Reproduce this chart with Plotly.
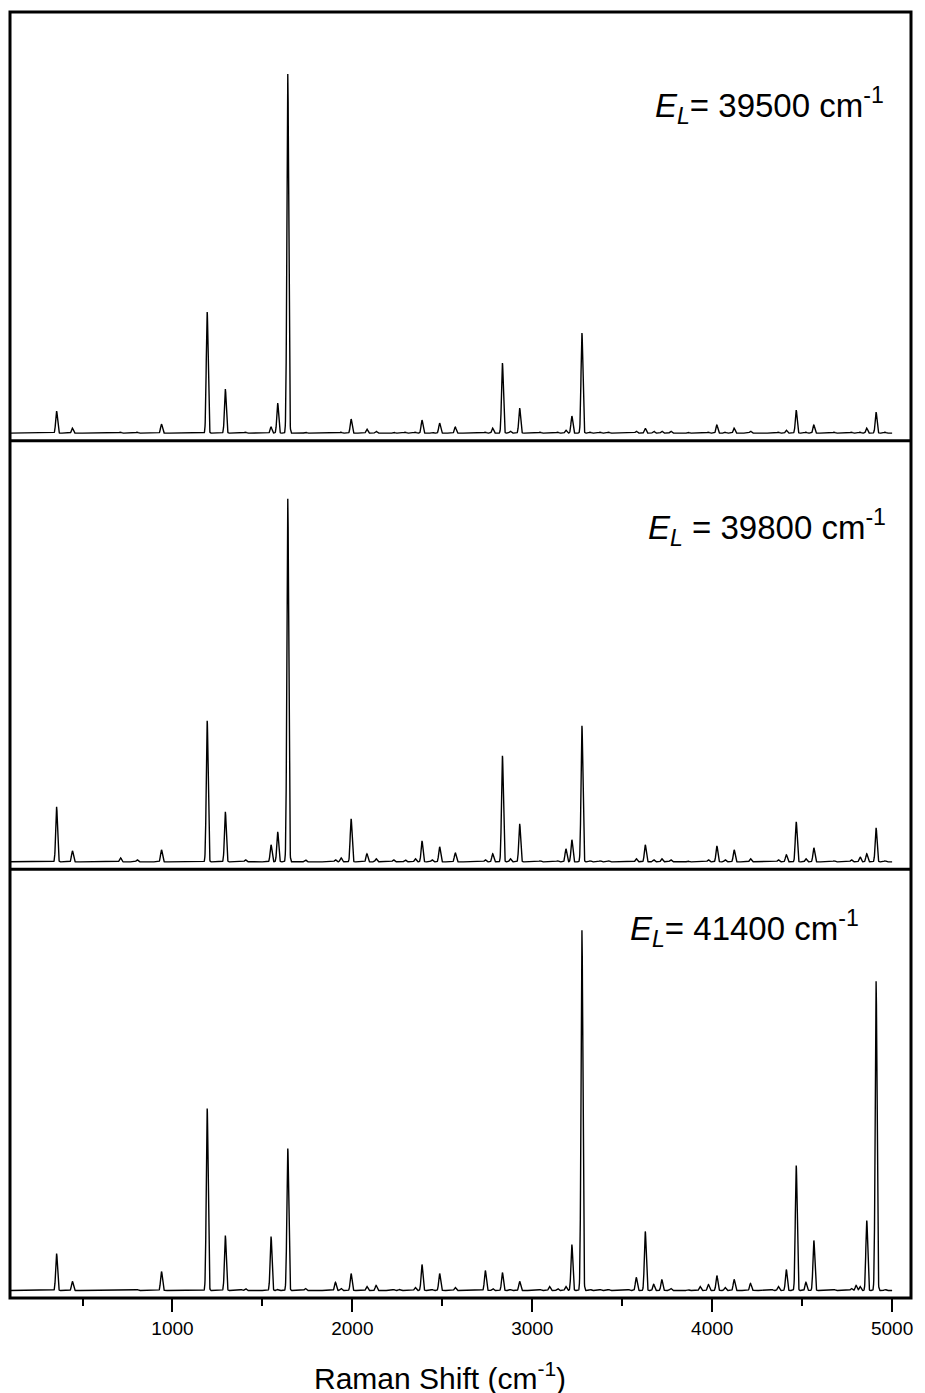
import numpy as np
import plotly.graph_objects as go
from plotly.subplots import make_subplots

# Peak positions (cm^-1)
peak_pos = [356, 444, 711, 804, 939, 1193, 1294, 1382, 1406, 1548, 1585, 1641, 1739,
            1906, 1937, 1993, 2081, 2132, 2229, 2263, 2294, 2350, 2387, 2443, 2485,
            2572, 2739, 2780, 2834, 2878, 2930, 3044, 3096, 3141, 3187, 3220, 3276,
            3322, 3378, 3424, 3535, 3578, 3628, 3675, 3720, 3770, 3865, 3933, 3979,
            4026, 4072, 4122, 4213, 4331, 4368, 4412, 4467, 4521, 4565, 4678, 4774,
            4800, 4822, 4859, 4911, 4961]

# Peak intensities (arb. units) for each excitation energy
int_39500 = [22, 5, 1, 1, 9, 121, 44, 0, 1, 6, 30, 359, 1,
             0, 1, 14, 4, 2, 1, 0, 1, 1, 13, 1, 10,
             6, 1, 5, 70, 2, 25, 1, 0, 1, 3, 17, 100,
             1, 1, 1, 0, 2, 5, 2, 2, 2, 1, 0, 1,
             8, 1, 5, 2, 0, 1, 3, 23, 1, 8, 1, 1,
             0, 1, 5, 21, 1]
int_39800 = [55, 11, 4, 2, 12, 141, 50, 0, 2, 17, 30, 363, 2,
             2, 4, 43, 8, 3, 2, 0, 2, 3, 21, 2, 15,
             9, 2, 8, 106, 3, 38, 1, 0, 1, 13, 22, 136,
             1, 1, 1, 0, 3, 17, 2, 3, 2, 1, 0, 2,
             16, 2, 12, 3, 0, 2, 7, 40, 3, 14, 1, 2,
             0, 5, 8, 34, 1]
int_41400 = [37, 9, 0, 1, 19, 182, 55, 1, 2, 54, 1, 142, 2,
             8, 2, 17, 4, 5, 1, 1, 0, 3, 26, 1, 17,
             3, 20, 2, 18, 1, 9, 1, 4, 2, 4, 46, 360,
             1, 1, 1, 1, 13, 59, 6, 11, 2, 1, 4, 6,
             15, 3, 11, 7, 1, 4, 21, 125, 8, 50, 1, 2,
             5, 4, 70, 309, 1]

labels = ["<i>E</i><sub><i>L</i></sub>= 39500 cm<sup>-1</sup>",
          "<i>E</i><sub><i>L</i></sub> = 39800 cm<sup>-1</sup>",
          "<i>E</i><sub><i>L</i></sub>= 41400 cm<sup>-1</sup>"]

x_tick_vals = [1000, 2000, 3000, 4000, 5000]
x_minor_vals = [500, 1500, 2500, 3500, 4500]
x_title = "Raman Shift (cm<sup>-1</sup>)"

grid = np.arange(90, 5001, 1.0)
sigma = 5.0


def spectrum(pos, heights):
    y = np.zeros_like(grid)
    for p, h in zip(pos, heights):
        y += h * np.exp(-0.5 * ((grid - p) / sigma) ** 2)
    return y


FONT = "Liberation Sans, Arial"

fig = make_subplots(rows=3, cols=1, shared_xaxes=True, vertical_spacing=0)
for i, ints in enumerate([int_39500, int_39800, int_41400]):
    fig.add_trace(go.Scatter(x=grid, y=spectrum(peak_pos, ints), mode="lines",
                             line=dict(color="black", width=1.4),
                             showlegend=False, hoverinfo="skip"),
                  row=i + 1, col=1)

for i in range(1, 4):
    fig.update_xaxes(range=[97, 5105], showline=False, showgrid=False,
                     zeroline=False, automargin=False, row=i, col=1)
    fig.update_yaxes(range=[-7.5, 421], showticklabels=False, ticks="",
                     showline=False, showgrid=False, zeroline=False,
                     automargin=False, row=i, col=1)

fig.update_xaxes(row=3, col=1, ticks="outside", ticklen=13, tickwidth=2,
                 tickcolor="black", tickvals=x_tick_vals, showticklabels=True,
                 tickfont=dict(family=FONT, size=19, color="black"),
                 minor=dict(ticks="outside", ticklen=7, tickwidth=2, tickcolor="black",
                            tickvals=x_minor_vals))

# frame drawn as shapes so shared borders are single lines
LW = 3
fig.add_shape(type="rect", xref="paper", yref="paper", x0=0, x1=1, y0=0, y1=1,
              line=dict(color="black", width=LW), fillcolor="rgba(0,0,0,0)")
for yb in (1 / 3, 2 / 3):
    fig.add_shape(type="line", xref="paper", yref="paper", x0=0, x1=1, y0=yb, y1=yb,
                  line=dict(color="black", width=LW))

# plot-area edges in window pixels; the page body adds an 8 px offset
OFF = 8
L, R, T, B = 9.5, 911, 12, 1298
W, H = R - L, B - T


def px(x):
    return (x - L) / W


def py(y):
    return 1 - (y - T) / H


ann_pos = [(653, 106), (646, 527), (628, 928)]
for text, (ax, ay) in zip(labels, ann_pos):
    fig.add_annotation(text=text, xref="paper", yref="paper",
                       x=px(ax), y=py(ay), xanchor="left", yanchor="middle",
                       showarrow=False,
                       font=dict(family=FONT, size=33, color="black"))

fig.add_annotation(text=x_title, xref="paper", yref="paper",
                   x=px(440), y=py(1376), xanchor="center", yanchor="middle",
                   showarrow=False, font=dict(family=FONT, size=30, color="black"))

fig.update_layout(width=925, height=1393,
                  margin=dict(l=L - OFF, r=925 - (R - OFF), t=T - OFF,
                              b=1393 - (B - OFF), pad=0),
                  plot_bgcolor="white", paper_bgcolor="white")

fig.write_html("out.html")
